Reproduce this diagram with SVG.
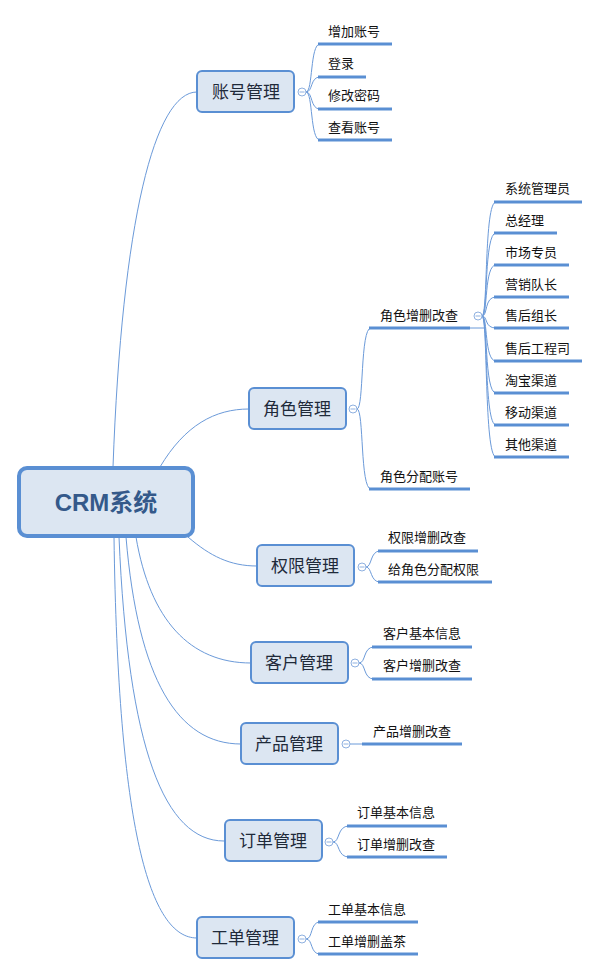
<svg xmlns="http://www.w3.org/2000/svg" width="600" height="975" viewBox="0 0 600 975">
<style>
.bg{fill:#ffffff}
.node rect{fill:#dce6f2;stroke:#5a8fd3;stroke-width:2}
.node text{font-family:"Noto Sans CJK SC","Liberation Sans",sans-serif;font-size:17px;fill:#1f2a3a;text-anchor:middle}
.leaf line{stroke:#5a8fd3;stroke-width:3}
.leaf text{font-family:"Noto Sans CJK SC","Liberation Sans",sans-serif;font-size:13px;fill:#111}
.conn path{fill:none;stroke:#6b9ad9;stroke-width:1}
.tog circle{fill:#fff;stroke:#8fb1e0;stroke-width:1}
.tog line{stroke:#8fb1e0;stroke-width:1}
</style>
<rect class="bg" x="0" y="0" width="600" height="975"/>
<g id="connectors" class="conn">
<path d="M113,467 C122,220 155,92 197,92"/>
<path d="M160,467 C185,425 215,409 249,409"/>
<path d="M188,537 C210,556 230,566 257,566"/>
<path d="M136,537 C150,620 190,663 251,663"/>
<path d="M126,537 C138,680 178,744 241,744"/>
<path d="M119,537 C128,750 165,841 224,841"/>
<path d="M114,537 C118,830 150,938 197,938"/>
<path d="M306,92 C313,92 310,44 320,44"/>
<path d="M306,92 C313,92 310,77 320,77"/>
<path d="M306,92 C313,92 310,109 320,109"/>
<path d="M306,92 C313,92 310,140 320,140"/>
<path d="M357,409 C364,409 360,328 371,328"/>
<path d="M357,409 C364,409 360,489 371,489"/>
<path d="M470,328 L484,328"/>
<path d="M482,316 C488,316 484,202 496,202"/>
<path d="M482,316 C488,316 484,233 496,233"/>
<path d="M482,316 C488,316 484,265 496,265"/>
<path d="M482,316 C488,316 484,297 496,297"/>
<path d="M482,316 C488,316 484,328 496,328"/>
<path d="M482,316 C488,316 484,361 496,361"/>
<path d="M482,316 C488,316 484,393 496,393"/>
<path d="M482,316 C488,316 484,425 496,425"/>
<path d="M482,316 C488,316 484,457 496,457"/>
<path d="M366,567 C372,567 370,551 380,551"/>
<path d="M366,567 C372,567 370,582 380,582"/>
<path d="M359,663 C366,663 363,647 374,647"/>
<path d="M359,663 C366,663 363,679 374,679"/>
<path d="M350,744 L362,744"/>
<path d="M333,842 C340,842 337,826 349,826"/>
<path d="M333,842 C340,842 337,857 349,857"/>
<path d="M306,939 C313,939 310,922 320,922"/>
<path d="M306,939 C313,939 310,954 320,954"/>
</g>
<g id="root">
<rect x="19" y="468" width="174" height="68" rx="8" fill="#dce6f2" stroke="#5a8fd3" stroke-width="4"/>
<text x="106" y="511" font-family="'Liberation Sans','Noto Sans CJK SC',sans-serif" font-size="24" font-weight="bold" fill="#34598a" text-anchor="middle">CRM系统</text>
</g>
<g id="n-zhanghao" class="node"><rect x="197" y="71" width="97" height="41" rx="5"/><text x="246" y="98">账号管理</text></g>
<g id="n-juese" class="node"><rect x="249" y="388" width="97" height="41" rx="5"/><text x="297" y="415">角色管理</text></g>
<g id="n-quanxian" class="node"><rect x="257" y="545" width="97" height="41" rx="5"/><text x="305" y="572">权限管理</text></g>
<g id="n-kehu" class="node"><rect x="251" y="642" width="97" height="41" rx="5"/><text x="299" y="669">客户管理</text></g>
<g id="n-chanpin" class="node"><rect x="241" y="723" width="97" height="41" rx="5"/><text x="289" y="750">产品管理</text></g>
<g id="n-dingdan" class="node"><rect x="225" y="820" width="97" height="41" rx="5"/><text x="273" y="847">订单管理</text></g>
<g id="n-gongdan" class="node"><rect x="197" y="917" width="97" height="41" rx="5"/><text x="245" y="944">工单管理</text></g>
<g id="toggles" class="tog">
<circle cx="302" cy="92" r="4"/><line x1="299.5" y1="92" x2="304.5" y2="92"/>
<circle cx="353" cy="409" r="4"/><line x1="350.5" y1="409" x2="355.5" y2="409"/>
<circle cx="478" cy="316" r="4"/><line x1="475.5" y1="316" x2="480.5" y2="316"/>
<circle cx="362" cy="567" r="4"/><line x1="359.5" y1="567" x2="364.5" y2="567"/>
<circle cx="355" cy="663" r="4"/><line x1="352.5" y1="663" x2="357.5" y2="663"/>
<circle cx="346" cy="744" r="4"/><line x1="343.5" y1="744" x2="348.5" y2="744"/>
<circle cx="329" cy="842" r="4"/><line x1="326.5" y1="842" x2="331.5" y2="842"/>
<circle cx="302" cy="939" r="4"/><line x1="299.5" y1="939" x2="304.5" y2="939"/>
</g>
<g id="leaves-zhanghao" class="leaf">
<g id="l-zengjia"><line x1="318" y1="44" x2="392" y2="44"/><text x="328" y="36">增加账号</text></g>
<g id="l-denglu"><line x1="318" y1="77" x2="366" y2="77"/><text x="328" y="68">登录</text></g>
<g id="l-xiugai"><line x1="318" y1="109" x2="392" y2="109"/><text x="328" y="100">修改密码</text></g>
<g id="l-chakan"><line x1="318" y1="140" x2="392" y2="140"/><text x="328" y="132">查看账号</text></g>
</g>
<g id="leaves-juese" class="leaf">
<g id="l-jueseczsc"><line x1="369" y1="328" x2="470" y2="328"/><text x="380" y="320">角色增删改查</text></g>
<g id="l-jsfp"><line x1="369" y1="489" x2="470" y2="489"/><text x="380" y="481">角色分配账号</text></g>
<g id="l-r1"><line x1="494" y1="202" x2="582" y2="202"/><text x="505" y="193">系统管理员</text></g>
<g id="l-r2"><line x1="494" y1="233" x2="557" y2="233"/><text x="505" y="225">总经理</text></g>
<g id="l-r3"><line x1="494" y1="265" x2="569" y2="265"/><text x="505" y="257">市场专员</text></g>
<g id="l-r4"><line x1="494" y1="297" x2="569" y2="297"/><text x="505" y="289">营销队长</text></g>
<g id="l-r5"><line x1="494" y1="328" x2="569" y2="328"/><text x="505" y="320">售后组长</text></g>
<g id="l-r6"><line x1="494" y1="361" x2="582" y2="361"/><text x="505" y="353">售后工程司</text></g>
<g id="l-r7"><line x1="494" y1="393" x2="569" y2="393"/><text x="505" y="385">淘宝渠道</text></g>
<g id="l-r8"><line x1="494" y1="425" x2="569" y2="425"/><text x="505" y="417">移动渠道</text></g>
<g id="l-r9"><line x1="494" y1="457" x2="569" y2="457"/><text x="505" y="449">其他渠道</text></g>
</g>
<g id="leaves-quanxian" class="leaf">
<g id="l-qx1"><line x1="378" y1="551" x2="478" y2="551"/><text x="388" y="542">权限增删改查</text></g>
<g id="l-qx2"><line x1="378" y1="582" x2="492" y2="582"/><text x="388" y="574">给角色分配权限</text></g>
</g>
<g id="leaves-kehu" class="leaf">
<g id="l-kh1"><line x1="372" y1="647" x2="472" y2="647"/><text x="383" y="638">客户基本信息</text></g>
<g id="l-kh2"><line x1="372" y1="679" x2="472" y2="679"/><text x="383" y="670">客户增删改查</text></g>
</g>
<g id="leaves-chanpin" class="leaf">
<g id="l-cp1"><line x1="362" y1="744" x2="462" y2="744"/><text x="373" y="736">产品增删改查</text></g>
</g>
<g id="leaves-dingdan" class="leaf">
<g id="l-dd1"><line x1="347" y1="826" x2="447" y2="826"/><text x="357" y="817">订单基本信息</text></g>
<g id="l-dd2"><line x1="347" y1="857" x2="447" y2="857"/><text x="357" y="849">订单增删改查</text></g>
</g>
<g id="leaves-gongdan" class="leaf">
<g id="l-gd1"><line x1="318" y1="922" x2="418" y2="922"/><text x="328" y="914">工单基本信息</text></g>
<g id="l-gd2"><line x1="318" y1="954" x2="418" y2="954"/><text x="328" y="946">工单增删盖茶</text></g>
</g>
</svg>
